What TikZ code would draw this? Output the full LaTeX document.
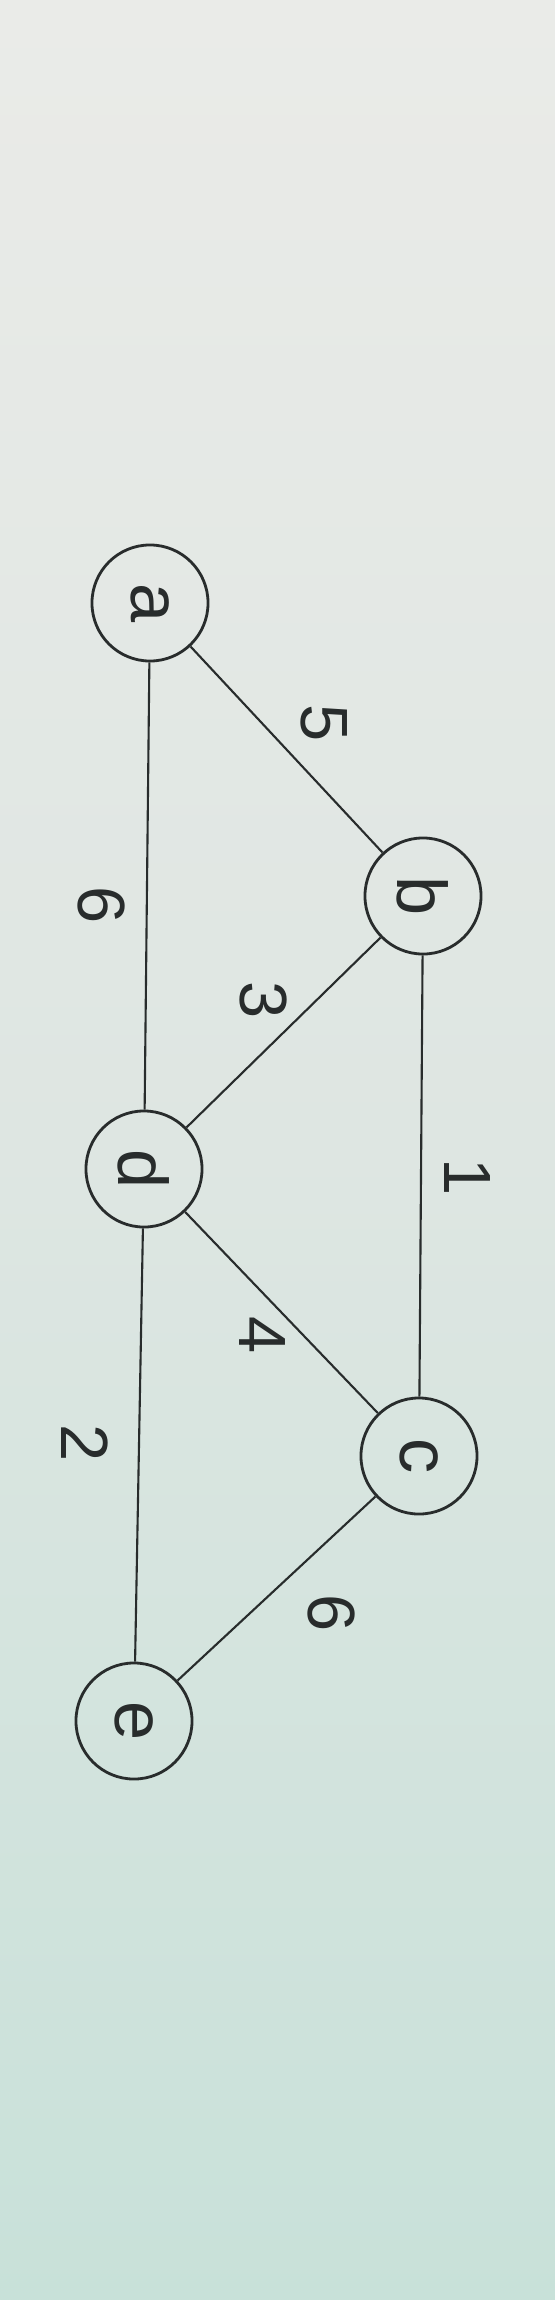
\documentclass[tikz,border=0pt]{standalone}
\usepackage{fontspec}
\setmainfont{Liberation Sans}
\usetikzlibrary{positioning}
\definecolor{paperTop}{RGB}{234,235,232}
\definecolor{paperMid}{RGB}{222,230,226}
\definecolor{paperBot}{RGB}{200,225,217}
\definecolor{ink}{RGB}{40,44,44}
\tikzset{
    vertex/.style={draw=ink, circle, line width=0.8pt, minimum size=1.16cm, inner sep=0pt, rotate=-90, font=\fontsize{20}{24}\selectfont, text=ink},
    weight/.style={rotate=-90, font=\fontsize{19}{22}\selectfont, text=ink, inner sep=1pt},
    edge/.style={draw=ink, line width=0.6pt}
}
\begin{document}
\begin{tikzpicture}[x=0.01cm, y=-0.01cm]
    % photo background
    \shade[top color=paperTop, bottom color=paperBot, middle color=paperMid] (0,0) rectangle (555,2300);
    \useasboundingbox (0,0) rectangle (555,2300);
    % vertices
    \node[vertex] (a) at (150,603) {a};
    \node[vertex] (b) at (423,896) {b};
    \node[vertex] (d) at (144,1169) {d};
    \node[vertex] (c) at (419,1456) {c};
    \node[vertex] (e) at (134,1721) {e};
    % edges
    \draw[edge] (a) -- (b);
    \draw[edge] (a) -- (d);
    \draw[edge] (b) -- (d);
    \draw[edge] (b) -- (c);
    \draw[edge] (d) -- (c);
    \draw[edge] (d) -- (e);
    \draw[edge] (c) -- (e);
    % weights
    \node[weight] (wab) at (324,723) {5};
    \node[weight] (wad) at (101,905) {6};
    \node[weight] (wbd) at (263,1000) {3};
    \node[weight] (wbc) at (467,1177) {1};
    \node[weight] (wdc) at (262,1335) {4};
    \node[weight] (wde) at (85,1443) {2};
    \node[weight] (wce) at (331,1613) {6};
\end{tikzpicture}
\end{document}
